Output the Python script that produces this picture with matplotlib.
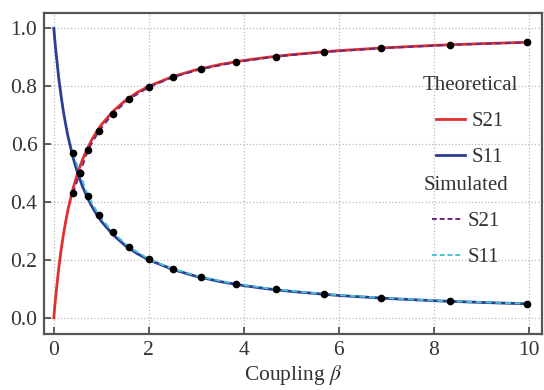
import matplotlib
matplotlib.use("Agg")
import matplotlib.pyplot as plt
from matplotlib.lines import Line2D

# Theoretical curves
beta_theory = [0.0, 0.02, 0.05, 0.1, 0.15, 0.2, 0.25, 0.3, 0.4, 0.5, 0.6, 0.7, 0.8, 0.9, 1.0,
               1.25, 1.5, 1.75, 2.0, 2.5, 3.0, 3.5, 4.0, 4.5, 5.0, 6.0, 7.0, 8.0, 9.0, 10.0]
s21_theory = [0.0, 0.04, 0.09, 0.167, 0.231, 0.286, 0.333, 0.375, 0.444, 0.5, 0.545, 0.583,
              0.615, 0.643, 0.667, 0.714, 0.75, 0.778, 0.8, 0.833, 0.857, 0.875, 0.889, 0.9,
              0.909, 0.923, 0.933, 0.941, 0.947, 0.952]
s11_theory = [1.0, 0.96, 0.91, 0.833, 0.769, 0.714, 0.667, 0.625, 0.556, 0.5, 0.455, 0.417,
              0.385, 0.357, 0.333, 0.286, 0.25, 0.222, 0.2, 0.167, 0.143, 0.125, 0.111, 0.1,
              0.091, 0.077, 0.067, 0.059, 0.053, 0.048]

# Simulated points
beta_sim = [0.4, 0.55, 0.72, 0.95, 1.24, 1.58, 2.0, 2.5, 3.1, 3.83, 4.67, 5.68, 6.88, 8.34, 9.95]
s21_sim = [0.43, 0.5, 0.58, 0.645, 0.705, 0.755, 0.797, 0.831, 0.859, 0.883, 0.902, 0.918,
           0.931, 0.943, 0.951]
s11_sim = [0.57, 0.5, 0.42, 0.355, 0.295, 0.245, 0.203, 0.169, 0.141, 0.117, 0.098, 0.082,
           0.069, 0.057, 0.049]

xticks = [0, 2, 4, 6, 8, 10]
yticks = [0.0, 0.2, 0.4, 0.6, 0.8, 1.0]

plt.rcParams['font.family'] = ['Liberation Serif', 'DejaVu Serif']
plt.rcParams['mathtext.fontset'] = 'stix'

fig = plt.figure(figsize=(5.44, 3.90), dpi=100)
ax = fig.add_axes([0.0815, 0.1436, 0.9145, 0.8224])

c_red = '#e0302e'
c_blue = '#2b3d94'
c_purple = '#6a2a7e'
c_cyan = '#4cc4d4'

ax.plot(beta_theory, s21_theory, color=c_red, lw=2.0, zorder=3)
ax.plot(beta_theory, s11_theory, color=c_blue, lw=2.0, zorder=3)
ax.plot(beta_sim, s21_sim, color=c_purple, lw=1.4, ls=(0, (3, 2)), zorder=4)
ax.plot(beta_sim, s11_sim, color=c_cyan, lw=1.4, ls=(0, (3, 2)), zorder=4)
ax.plot(beta_sim, s21_sim, 'o', color='black', ms=4.5, zorder=5)
ax.plot(beta_sim, s11_sim, 'o', color='black', ms=4.5, zorder=5)

ax.set_xlim(-0.2, 10.27)
ax.set_ylim(-0.056, 1.052)
ax.set_xticks(xticks)
ax.set_yticks(yticks)
ax.set_xticklabels([str(t) for t in xticks])
ax.set_yticklabels([f"{t:.1f}" for t in yticks])
ax.tick_params(direction='in', length=5, width=1.2, labelsize=15.5, colors='#444444',
               labelcolor='#333333', pad=5)
ax.grid(True, ls=':', color='#bbbbbb', lw=0.9)
ax.set_axisbelow(True)
for s in ax.spines.values():
    s.set_color('#555555')
    s.set_linewidth(1.6)

ax.set_xlabel(r'Coupling $\beta$', fontsize=15.5, color='#333333', labelpad=2)

h1 = [Line2D([], [], color=c_red, lw=2.0), Line2D([], [], color=c_blue, lw=2.0)]
h2 = [Line2D([], [], color=c_purple, lw=1.4, ls=(0, (2.5, 1.5))),
      Line2D([], [], color=c_cyan, lw=1.4, ls=(0, (2.5, 1.5)))]
common = dict(loc='upper left', frameon=False, fontsize=15, title_fontsize=15,
              handlelength=1.4, labelspacing=0.8, handletextpad=0.3,
              borderaxespad=0, borderpad=0)
leg1 = ax.legend(h1, ['S21', 'S11'], title='Theoretical',
                 bbox_to_anchor=(0.76, 0.805), **common)
for t in leg1.get_texts():
    t.set_color('#333333')
leg1.get_title().set_color('#333333')
ax.add_artist(leg1)
leg2 = ax.legend(h2, ['S21', 'S11'], title='Simulated',
                 bbox_to_anchor=(0.762, 0.493), **common)
for t in leg2.get_texts():
    t.set_color('#333333')
leg2.get_title().set_color('#333333')

fig.savefig('out.png', dpi=100)
